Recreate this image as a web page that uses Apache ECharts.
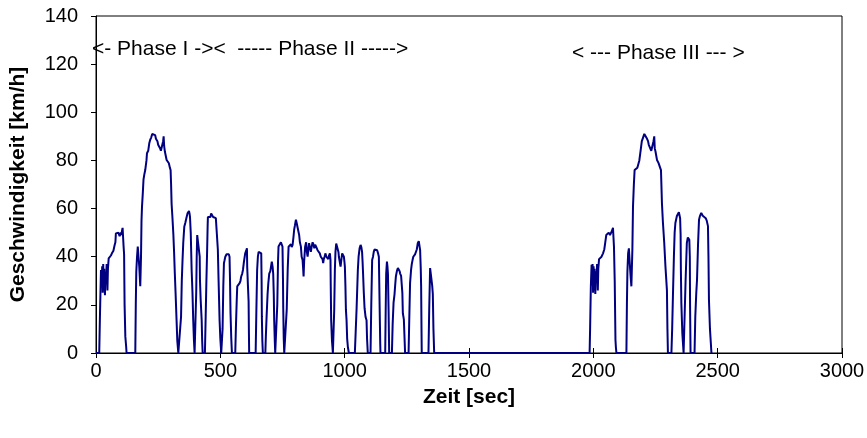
<!DOCTYPE html>
<html><head><meta charset="utf-8">
<script src="https://cdn.jsdelivr.net/npm/echarts@6/dist/echarts.min.js"></script>
<style>html,body{margin:0;padding:0;background:#fff}#c{width:867px;height:438px}</style>
</head><body><div id="c"></div>
<script>
// Phase I (time [s], speed [km/h])
const phase1Time = [0,13,16,20,23,25,27,29,31,33,36,38,40,43,46,48,51,54,60,64,70,75,78,80,85,90,95,100,102,105,107,109,111,113,115,118,121,123,158,160,162,165,168,171,174,178,181,183,185,188,191,194,198,200,203,205,210,214,218,222,226,230,233,238,241,244,247,250,254,258,261,264,267,270,272,274,277,280,284,289,293,297,300,302,304,307,311,314,317,320,324,327,331,338,342,345,348,351,355,359,364.5,368,371,374,376,378,381,384.6,388,391,394,396.5,400.6,403,405,407,410,413,415,417,418,421,425,427,429,438,441,444,447,449,450,455,460,463,467,471,475,477,482,485,487.5,490,493,497,500,503.6,505];
const phase1Speed = [0,0,16,34.5,30,36,25,37,26,35,24,33,30,37,26,35,39.3,39.3,40.5,41.4,42.5,44.9,46,49.7,49,50,48.5,50,49,51,52,48,44.2,41,20,6.8,3,0,0,20,33.7,40,44.2,40,36,27.7,40,55,60.8,66,72,74,76,76,80,83,84,87,88.6,89.5,91,91.3,91.3,90.5,89,89,88,86.5,87,85,84,83.7,84,88,90,86,83.7,83,80.2,79.5,78.8,77,76,70,62,57,49.5,42,33,25,13.6,5,0,0,15,30,38.6,46,52.4,54,56.5,58,57.5,59,58,56.5,50,34.5,25,13.6,5,0,0,25,40,49,48.5,49,48.3,40,30.5,22,13.6,5,0,0,15,30,43,53,56.5,57,56.5,58,57.5,56.5,57,56.5,56,56,56,43,30,13.6,6,0,0];
// Phase II
const phase2Time = [506,509,512,514.5,517,520,525,530.5,534,537,539,541,544,546.6,560,563,566,568,572,577.5,581,584,588,591,595,600,604,607,608,611,613.7,615,616,642,645,648,651,654,658,661,664.5,666,667,669,671,681,683,686,690,693,696.7,701,704,707,710,712.6,715,716.6,719,720.7,726,729,732,734,738,743.6,747,750,752,753,755,757,763.7,767,771,774.5,779,783.8,787,790.6,794,797,800,804,807,810.6,813,817,820,824,827,830.8,833,834.8,837,841,845,848,851,854,857,860,864,867,871,875,878,881.4,886,891,895,900,904,908,911,913.6,916,919,923,926,930,934,937,940.5,943,944,945.7,949,952.6,956.6,958,960.6,963,966,969,972.7,975,976.7,980,983.5,987,990,993,996.8,999,1000.8,1003,1005,1007.6,1010,1013,1017,1041,1044,1048,1053,1056,1060,1064,1067,1070,1072,1074,1077,1080,1084,1088,1090,1093,1104,1107,1110.5,1114,1117,1120,1124,1127,1130.6,1134,1137.5,1139,1141.5,1143,1144,1163,1165,1167,1170,1172,1174,1176.5,1179,1190,1193,1196.6,1200.6,1203,1206,1210,1214,1217,1219,1221,1223,1227,1230,1232,1234,1238,1240.7,1243,1257,1260,1263,1267,1270,1273,1276,1279,1283,1287,1290,1294,1298,1301,1303.5,1306,1307.5,1309,1310,1337,1340,1343.6,1347,1350.5,1352,1354.5,1357,1360];
const phase2Speed = [0,10,28,37.3,38.5,40,41,41.6,41,40,30,16.5,6,0,0,12,22,27.7,28,29,30,31.8,33,34.5,38,41.4,42.5,43.5,36,28,21.3,8,0,0,18,34.5,40,42,42.7,42,41.4,30,15,5,0,0,6.8,15,24.5,29,33,34,36,38,36,33,24,13.6,5,0,0,20,38,44.2,45,46,45.5,44.2,30,18.6,6,0,0,18,35,44.2,44.5,45.2,44,44.9,48,51.3,53,55.4,54,54,51,49,46,44.2,40,38.6,35,31.8,38,44.2,46,42,40,43,45.6,44,42,44,46,45,43.5,45,44,42.7,42,41.4,40,40.7,39,37.3,39,40,41.4,40,40,39,40.5,41.4,38.6,28,13.6,5,0,0,18,34.5,42,45.5,45.5,44.9,42,40,38,35.9,39,41.4,41,40,38,35.9,28,18,13.6,6,2.4,0,0,8,18.6,34.5,40,43.5,44.9,44,42,38,33,25,18.6,15,13.6,6,0,0,20,38.6,40,42,43,43.5,43,42.7,41.5,40,30,13.6,4,0,0,18,33,38,36,33,18.6,0,0,12,20.9,24.5,28,31.8,34,35.3,36,36,34,33,32,31.8,25,16.5,14,13.6,0,0,15,29,34.5,37,38.6,40,40,41,41.4,43,45.6,46.5,46.6,42.7,35,27.7,10,0,0,18,35.3,36,34.5,28,24.5,10,0];
// Hot soak (engine off)
const soakTime = [1985];
const soakSpeed = [0];
// Phase III
const phase3Time = [1987,1990,1993,1995,1997,1999,2001,2003,2005,2008,2010,2013,2015,2018,2020,2023,2026,2033,2039,2044,2048,2052,2057,2062,2067,2073,2076,2079,2081,2083,2086,2089,2091,2093,2133,2135,2137,2140,2143,2146,2150,2153,2157,2159.5,2163,2166,2172,2177,2180,2185,2190,2195,2200,2205,2208,2213,2216,2220,2223,2228,2233,2237,2242,2245,2247,2250,2256,2262,2266,2272,2276,2280,2285,2290,2296,2298,2300,2314,2317,2320,2324,2327,2330,2336,2340,2344,2347,2349,2351,2352,2354,2358,2363,2368,2371,2376,2380,2383,2386,2388,2389,2391,2407,2410,2414,2417,2421,2425,2429,2434,2440,2444,2448,2452,2456,2461,2463,2465,2469,2475];
const phase3Speed = [10,27.7,36.6,28,37,25,36,26,35,24.5,34,30,37,26,35,39,39.5,40,41.4,43,46,49,49,50,49,49.7,51,52,48,44.2,30,5.4,2,0,0,20,33.7,41.5,43.5,38,31.8,27.7,42.9,60.8,70,76,76,77,77.4,80,84,88,89.5,91,91.3,90.5,89,88,86.5,86,84,83.7,88,90,85,83.7,80.2,79,78.8,76,62,54,46,36,26,10,0,0,10,23.3,40,50,54,56.9,57.5,58.5,58.9,56,49.3,35,20.6,8,0,0,30,45.7,48,48.5,47,40,20,0,0,15,25,30.5,45,55.4,57,58.2,57,57.5,56.9,56,55,52.7,40,22,10,0];
// Axis ticks
const xTicks = [0,500,1000,1500,2000,2500,3000];
const yTicks = [0,20,40,60,80,100,120,140];
const phaseLabels = ['<- Phase I -><  ----- Phase II ----->', '< --- Phase III --- >'];

const times = phase1Time.concat(phase2Time, soakTime, phase3Time);
const speeds = phase1Speed.concat(phase2Speed, soakSpeed, phase3Speed);
const data = times.map((t, i) => [t, speeds[i]]);

const font = 'Arial, "Liberation Sans", sans-serif';
const chart = echarts.init(document.getElementById('c'), null, {renderer: 'canvas'});
const xStep = xTicks[1] - xTicks[0];
const yStep = yTicks[1] - yTicks[0];
chart.setOption({
  animation: false,
  backgroundColor: '#fff',
  grid: {left: 96, right: 25, top: 16, bottom: 85, outerBoundsMode: 'none', containLabel: false,
         show: true, borderColor: '#000', borderWidth: 1, backgroundColor: 'transparent'},
  xAxis: [{
    type: 'value', min: xTicks[0], max: xTicks[xTicks.length - 1], interval: xStep,
    axisLine: {lineStyle: {color: '#000', width: 1}},
    axisTick: {show: true, length: 5, lineStyle: {color: '#000'}},
    axisLabel: {color: '#000', fontSize: 20, fontFamily: font, margin: 8, formatter: v => String(v)},
    splitLine: {show: false},
    name: 'Zeit [sec]', nameLocation: 'middle', nameGap: 34,
    nameTextStyle: {color: '#000', fontSize: 21, fontWeight: 'bold', fontFamily: font}
  }, {
    type: 'value', position: 'bottom', min: xTicks[0], max: xTicks[xTicks.length - 1], interval: xStep,
    axisLine: {show: false},
    axisTick: {show: true, inside: true, length: 5, lineStyle: {color: '#000'}},
    axisLabel: {show: false}, splitLine: {show: false}
  }],
  yAxis: {
    type: 'value', min: yTicks[0], max: yTicks[yTicks.length - 1], interval: yStep,
    axisLine: {show: true, lineStyle: {color: '#000', width: 1}},
    axisTick: {show: true, length: 5, lineStyle: {color: '#000'}},
    axisLabel: {color: '#000', fontSize: 20, fontFamily: font, margin: 18, formatter: v => String(v)},
    splitLine: {show: false},
    name: 'Geschwindigkeit [km/h]', nameLocation: 'middle', nameGap: 67, nameRotate: 90,
    nameTextStyle: {color: '#000', fontSize: 21, fontWeight: 'bold', fontFamily: font}
  },
  series: [{
    type: 'line', data: data, showSymbol: false, xAxisIndex: 0,
    lineStyle: {color: '#000080', width: 2}, z: 3
  }],
  graphic: [
    {type: 'text', left: 92, top: 39, style: {text: phaseLabels[0], fill: '#000', font: '21px ' + font}},
    {type: 'text', left: 572, top: 43, style: {text: phaseLabels[1], fill: '#000', font: '21px ' + font}}
  ]
});
</script></body></html>
